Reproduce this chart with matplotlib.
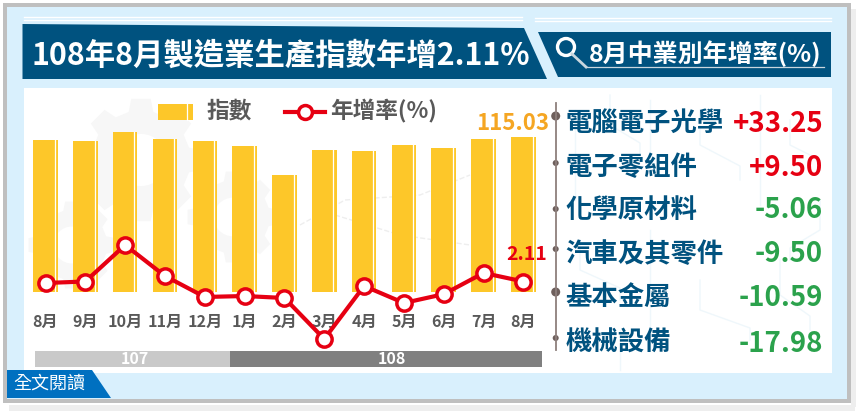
import matplotlib
matplotlib.use("Agg")
import matplotlib.pyplot as plt
from matplotlib.patches import Polygon, Rectangle, Circle
import numpy as np

plt.rcParams['font.family'] = ['Noto Sans CJK TC', 'DejaVu Sans']

months = ["8月", "9月", "10月", "11月", "12月", "1月", "2月", "3月", "4月", "5月", "6月", "7月", "8月"]
index_vals = [112.8, 112.0, 118.7, 113.5, 112.0, 108.3, 86.8, 105.4, 104.6, 109.0, 106.9, 113.5, 115.03]
growth_vals = [1.86, 2.11, 8.19, 3.03, -0.47, -0.31, -0.64, -7.47, 1.36, -1.47, 0.0, 3.53, 2.11]
industries = ["電腦電子光學", "電子零組件", "化學原材料", "汽車及其零件", "基本金屬", "機械設備"]
industry_vals = ["+33.25", "+9.50", "-5.06", "-9.50", "-10.59", "-17.98"]
years = ["107", "108"]

W, H = 866, 418
NAVY = "#00527f"
RED = "#e60012"
YELLOW = "#fdc729"
fig = plt.figure(figsize=(W / 100, H / 100), dpi=100, facecolor="white")


def pixel_axes():
    a = fig.add_axes([0, 0, 1, 1])
    a.set_xlim(0, W)
    a.set_ylim(H, 0)
    a.patch.set_alpha(0)
    a.axis("off")
    return a


def gear(a, cx, cy, r, teeth=8, color="#f7f7f7"):
    pts = []
    for i in range(teeth):
        t = 2 * np.pi * i / teeth
        s = 2 * np.pi / teeth
        for da, rr in [(-0.32, 0.8), (-0.2, 1.0), (0.2, 1.0), (0.32, 0.8)]:
            pts.append((cx + r * rr * np.cos(t + da * s), cy + r * rr * np.sin(t + da * s)))
    a.add_patch(Polygon(pts, fc=color, ec="none", zorder=1))
    a.add_patch(Circle((cx, cy), r * 0.42, fc="white", ec="none", zorder=1))


bg = pixel_axes()

# frame and soft shadow
bg.add_patch(Rectangle((9, 405), 846, 6, fc="#eeeeee", ec="none"))
bg.add_patch(Rectangle((851, 9), 5, 398, fc="#eeeeee", ec="none"))
bg.add_patch(Rectangle((3, 3), 848, 400, fc="#bfbfbf", ec="none"))
bg.add_patch(Rectangle((7, 7), 840, 392, fc="#d9f0fd", ec="none"))
bg.add_patch(Rectangle((24, 88), 808, 285, fc="white", ec="none"))

# faint lines above the header
bg.plot([24, 522], [17, 17], color="white", lw=1)
bg.plot([24, 522], [20, 20], color="white", lw=1)
bg.plot([535, 831], [18, 18], color="white", lw=1)
bg.plot([535, 831], [21, 21], color="white", lw=1)

# header banners
bg.add_patch(Polygon([(22.5, 24), (524, 28), (547, 79), (22.5, 79)], fc=NAVY, ec="none"))
bg.add_patch(Polygon([(538, 32), (831, 32), (831, 77), (558, 77)], fc=NAVY, ec="none"))
bg.text(31, 55.5, "108年8月製造業生產指數年增2.11%", color="white", fontsize=21.9,
        fontweight="bold", va="center", ha="left")
bg.text(589, 54, "8月中業別年增率(%)", color="white", fontsize=18,
        fontweight="bold", va="center", ha="left")
bg.add_patch(Circle((566, 47), 8.5, fc="none", ec="white", lw=2.4))
bg.plot([572, 586], [54, 67], color="#c9d6de", lw=2)
bg.plot([586, 824], [67, 67], color="#c9d6de", lw=0.9)

# faint gears and dashes behind the chart
gear(bg, 141, 160, 62)
gear(bg, 233, 217, 46)
gear(bg, 72, 245, 44)
bg.plot([300, 345, 420, 470], [225, 200, 195, 175], color="#eeeeee", lw=1, ls="--", zorder=1)
bg.plot([335, 400, 470], [215, 235, 245], color="#eeeeee", lw=1, ls="--", zorder=1)

# faint circuit traces behind the industry list
trace = "#eff7fb"
for x0, y0, dx, dy in [(575, 110, 0, 90), (610, 95, 30, 60), (650, 100, 0, 70), (700, 110, 40, 70),
                       (760, 95, 0, 110), (790, 120, 30, 50), (580, 240, 40, 60), (650, 230, 0, 120),
                       (700, 280, 50, 60), (780, 260, 30, 70), (620, 330, 0, 40), (820, 200, -30, 60)]:
    bg.plot([x0, x0, x0 + dx, x0 + dx], [y0, y0 + dy * 0.5, y0 + dy * 0.8, y0 + dy], color=trace, lw=1, zorder=1)

# year strip
bg.add_patch(Rectangle((34.5, 351), 195.5, 16, fc="#c9c9c9", ec="none"))
bg.add_patch(Rectangle((230, 351), 312, 16, fc="#808080", ec="none"))
bg.text(135, 358.5, years[0], color="white", fontsize=11.5, fontweight="bold", ha="center", va="center")
bg.text(392, 358.5, years[1], color="white", fontsize=11.5, fontweight="bold", ha="center", va="center")

# read-more tab
bg.add_patch(Polygon([(7, 370), (92, 370), (111, 398), (7, 398)], fc="#0070c0", ec="none", zorder=3))
bg.text(13, 384, "全文閱讀", color="white", fontsize=13, ha="left", va="center", zorder=4)

# month labels
step = (523.4 - 45.5) / 12
for i, m in enumerate(months):
    bg.text(45.5 + i * step, 322, m, color="#595959", fontsize=11.6, fontweight="bold",
            ha="center", va="center", zorder=2)

# chart: bars and line share one x range, y scales set from pixel fits
x = np.arange(len(months))
left, right = 24.5, 542
xlim = ((left - 45.5) / step, (right - 45.5) / step)
ax = fig.add_axes([left / W, 1 - 292 / H, (right - left) / W, 200 / H])
ax.patch.set_alpha(0)
ax.set_xlim(*xlim)
ax.set_ylim(0, 200 * 115.03 / 155)
ax.axis("off")
ax.bar(x, index_vals, width=24.5 / step, color=YELLOW, zorder=2)
for xi, v in zip(x, index_vals):
    ax.plot([xi + 9.2 / step] * 2, [0, v], color="white", lw=0.9, zorder=3)

ax2 = fig.add_axes([left / W, 1 - 360 / H, (right - left) / W, 260 / H])
ax2.patch.set_alpha(0)
ax2.set_xlim(*xlim)
ax2.set_ylim(2.11 - (360 - 281.5) / 6, 2.11 + (281.5 - 100) / 6)
ax2.axis("off")
ax2.plot(x, growth_vals, color=RED, lw=3, marker="o", ms=11, mfc="white",
         mec=RED, mew=2.5, zorder=5)

top = pixel_axes()

# value labels
top.text(512.5, 124, "115.03", color="#f5a623", fontsize=16, fontweight="bold", ha="center", va="center")
top.text(527, 254, "2.11", color=RED, fontsize=14, fontweight="bold", ha="center", va="center")

# legend
top.add_patch(Rectangle((158, 104), 35, 16, fc=YELLOW, ec="none"))
top.plot([187, 187], [104, 120], color="white", lw=0.9)
top.text(207, 111, "指數", color="#595959", fontsize=16.3, fontweight="bold", va="center")
top.plot([285, 325], [112, 112], color=RED, lw=3)
top.plot([305], [112], "o", ms=10, mfc="white", mec=RED, mew=2.5)
top.text(330, 111, "年增率(%)", color="#595959", fontsize=16.3, fontweight="bold", va="center")

# industry list
top.plot([555.7, 555.7], [103, 350], color="#8d7f7c", lw=1.3)
row_y = [123.5, 167.5, 210, 254.5, 298.5, 343.5]
dot_y = [116, 163, 209, 249, 292, 338]
dot_r = [4.5, 3, 3, 3, 4.5, 3]
for y, r in zip(dot_y, dot_r):
    top.add_patch(Circle((555.7, y), r, fc="#6e5f5c", ec="none"))
for name, val, y in zip(industries, industry_vals, row_y):
    col = RED if val.startswith("+") else "#2ba24c"
    top.text(565.5, y, name, color=NAVY, fontsize=19, fontweight="bold", ha="left", va="center")
    top.text(823, y, val, color=col, fontsize=19.9, fontweight="bold", ha="right", va="center")

fig.savefig("out.png", dpi=100)
